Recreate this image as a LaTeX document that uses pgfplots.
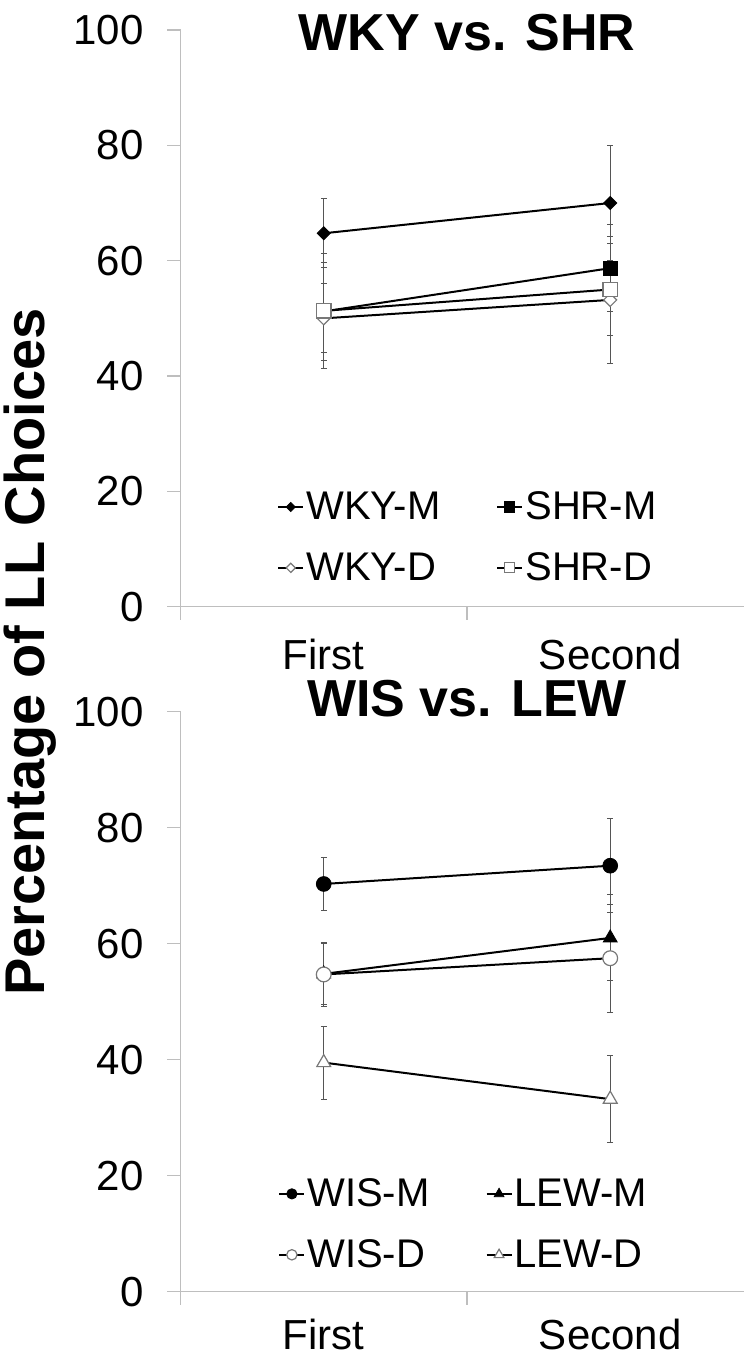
\documentclass[border=0pt]{standalone}
\usepackage{fontspec}
\setmainfont{Liberation Sans}
\usepackage{pgfplots}
\pgfplotsset{compat=1.18}
\definecolor{axgray}{RGB}{190,190,190}
\definecolor{errgray}{RGB}{85,85,85}
\definecolor{mkgray}{RGB}{120,120,120}
\pgfplotsset{
  panel/.style={
    scale only axis, width=281.75pt,
    xmin=0, xmax=1.967, ymin=0, ymax=100,
    axis x line*=bottom, axis y line*=left,
    axis line style={axgray, line width=0.75pt},
    ytick={0,20,...,100},
    xtick={0,1,2}, xticklabels={,,},
    extra x ticks={0.5,1.5}, extra x tick labels={First,Second},
    tick align=outside, major tick length=6.5pt,
    every tick/.style={axgray, line width=0.75pt},
    tick label style={font=\fontsize{21}{25}\selectfont, black},
    yticklabel style={xshift=-8.5pt},
    /pgf/number format/assume math mode=true,
    legend columns=2,
    legend cell align=left,
    legend style={draw=none, fill=none, inner sep=0pt, font=\fontsize{20}{24}\selectfont,
      nodes={inner sep=1pt}, row sep=13pt,
      /tikz/every even column/.append style={column sep=27pt}},
    legend image code/.code={
      \draw[mark repeat=2, mark phase=2, /tikz/every mark/.append style={scale=0.7}]
        plot coordinates {(0pt,0pt) (6.25pt,0pt) (12.5pt,0pt)};
    },
    every axis plot/.append style={line width=1pt, black,
      error bars/y dir=both, error bars/y explicit,
      error bars/error bar style={errgray, line width=0.5pt},
      error bars/error mark options={errgray, line width=0.5pt, mark size=1.4pt, rotate=90}},
  },
}
\begin{document}
\begin{tikzpicture}
\useasboundingbox (0pt,0pt) rectangle (372pt,-681.5pt);
% ---------- top panel ----------
\begin{axis}[panel, height=288.35pt, at={(90.25pt,-303.35pt)}, anchor=origin,
  extra x tick style={major tick length=0pt, xticklabel style={inner sep=0pt, yshift=-16pt}},
  legend style={at={(0.171,0.204)}, anchor=north west}]
\addplot[black, mark=square*, mark size=2.3pt, mark options={fill=black, draw=black, line width=0.4pt, rotate=45}] coordinates {(0.5,64.75) +- (0,6) (1.5,70) +- (0,10)};
\addlegendentry{WKY-M}
\addplot[black, mark=square*, mark size=3.6pt, mark options={fill=black, draw=black, line width=0.4pt}] coordinates {(0.5,51.2) +- (0,8.5) (1.5,58.7) +- (0,7.5)};
\addlegendentry{SHR-M}
\addplot[black, mark=square*, mark size=2.3pt, mark options={fill=white, draw=mkgray, line width=0.6pt, rotate=45}] coordinates {(0.5,50) +- (0,6) (1.5,53.2) +- (0,11)};
\addlegendentry{WKY-D}
\addplot[black, mark=square*, mark size=3.6pt, mark options={fill=white, draw=mkgray, line width=0.6pt}] coordinates {(0.5,51.3) +- (0,10) (1.5,55) +- (0,8)};
\addlegendentry{SHR-D}
\end{axis}
% ---------- bottom panel ----------
\begin{axis}[panel, height=290pt, at={(90.25pt,-645.85pt)}, anchor=origin,
  extra x tick style={major tick length=0pt, xticklabel style={inner sep=0pt, yshift=-13.5pt}},
  legend style={at={(0.173,0.1995)}, anchor=north west}]
\addplot[black, mark=*, mark size=3.7pt, mark options={fill=black, draw=black, line width=0.4pt}] coordinates {(0.5,70.3) +- (0,4.5) (1.5,73.45) +- (0,8.1)};
\addlegendentry{WIS-M}
\addplot[black, mark=triangle*, mark size=4pt, mark options={fill=black, draw=black, line width=0.4pt}] coordinates {(0.5,54.8) +- (0,5.3) (1.5,61) +- (0,7.4)};
\addlegendentry{LEW-M}
\addplot[black, mark=*, mark size=3.7pt, mark options={fill=white, draw=mkgray, line width=0.6pt}] coordinates {(0.5,54.7) +- (0,5.5) (1.5,57.5) +- (0,9.3)};
\addlegendentry{WIS-D}
\addplot[black, mark=triangle*, mark size=4pt, mark options={fill=white, draw=mkgray, line width=0.6pt}] coordinates {(0.5,39.5) +- (0,6.3) (1.5,33.2) +- (0,7.5)};
\addlegendentry{LEW-D}
\end{axis}
\node[inner sep=0pt, font=\bfseries\fontsize{26}{30}\selectfont] at (233.5pt,-16.5pt) {WKY vs. SHR};
\node[inner sep=0pt, font=\bfseries\fontsize{26}{30}\selectfont] at (233.5pt,-349.5pt) {WIS vs. LEW};
\node[font=\bfseries\fontsize{28}{32}\selectfont, rotate=90] at (15pt,-326pt) {Percentage of LL Choices};
\end{tikzpicture}
\end{document}
